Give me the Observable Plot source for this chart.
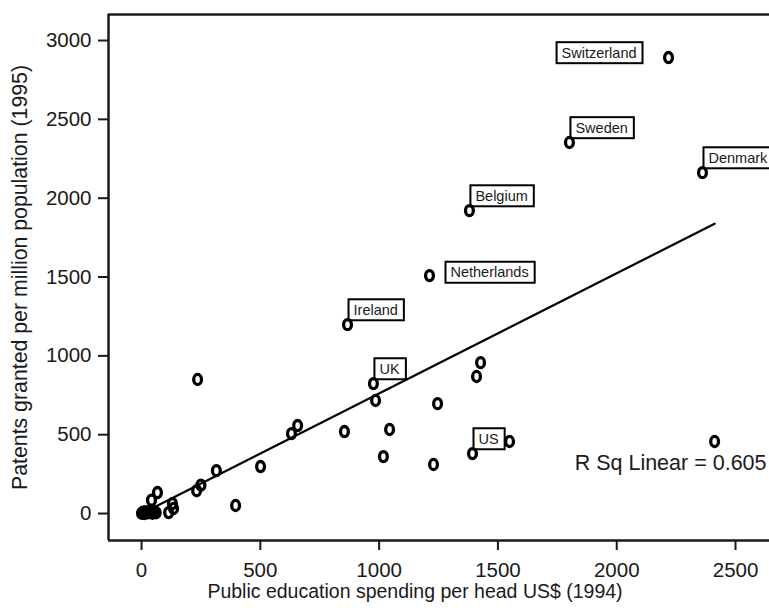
<!DOCTYPE html>
<html>
<head>
<meta charset="utf-8">
<script src="https://cdn.jsdelivr.net/npm/d3@7"></script>
<script src="https://cdn.jsdelivr.net/npm/@observablehq/plot@0.6"></script>
<style>
  html, body { margin: 0; padding: 0; background: #fff; overflow: hidden; }
  #chart svg { display: block; }
</style>
</head>
<body>
<div id="chart"></div>
<script>
// Country names (blank for unlabelled countries)
const names = [
  "Switzerland", "Sweden", "Denmark", "Belgium", "Netherlands", "Ireland", "UK", "US",
  "", "", "", "", "", "", "", "", "", "", "", "", "", "", "", "", "", "", "", "", "", "", "",
  "", "", "", "", "", "", "", "", "", ""
];
// Public education spending per head, US$ (1994)
const spending = [
  2218, 1801, 2361, 1380, 1212, 867, 976, 1393,
  1427, 1410, 985, 1246, 854, 1044, 1018, 1229, 1549, 2412, 236, 657, 631, 501, 315, 250, 232, 396, 67, 42, 130, 135, 114,
  0, 6, 12, 18, 24, 30, 38, 46, 54, 62
];
// Patents granted per million population (1995)
const patents = [
  2892, 2353, 2162, 1921, 1509, 1198, 824, 380,
  957, 869, 717, 697, 520, 533, 361, 311, 457, 457, 850, 558, 507, 298, 272, 180, 145, 51, 133, 85, 63, 32, 6,
  2, 8, 0, 12, 4, 6, 14, 2, 10, 5
];
const xTicks = [0, 500, 1000, 1500, 2000, 2500];
const yTicks = [0, 500, 1000, 1500, 2000, 2500, 3000];
const rSquared = 0.605;
const xTitle = "Public education spending per head US$ (1994)";
const yTitle = "Patents granted per million population (1995)";

const data = names.map((name, i) => ({name, spending: spending[i], patents: patents[i]}));

// Where each country label sits relative to its point
const labelSide = {Switzerland: "left", Netherlands: "right"};
const sideOf = d => labelSide[d.name] || "above";
const labelled = data.filter(d => d.name);

// Open oval marker, slightly taller than wide
const oval = {
  draw(context, size) {
    const r = Math.sqrt(size / Math.PI);
    const rx = r * 0.85, ry = r * 1.1, k = 0.5523;
    context.moveTo(rx, 0);
    context.bezierCurveTo(rx, ry * k, rx * k, ry, 0, ry);
    context.bezierCurveTo(-rx * k, ry, -rx, ry * k, -rx, 0);
    context.bezierCurveTo(-rx, -ry * k, -rx * k, -ry, 0, -ry);
    context.bezierCurveTo(rx * k, -ry, rx, -ry * k, rx, 0);
    context.closePath();
  }
};

const xDomain = [-139, 2643];
const yDomain = [-171, 3165];
const font = "'Liberation Sans', Arial, Helvetica, sans-serif";
const ink = "#1a1a1a";

const chart = Plot.plot({
  width: 769,
  height: 611,
  marginLeft: 108,
  marginRight: 0,
  marginTop: 14,
  marginBottom: 71,
  style: {fontFamily: font, color: ink, background: "#fff"},
  x: {domain: xDomain},
  y: {domain: yDomain},
  marks: [
    Plot.axisX({ticks: xTicks, tickFormat: "d", tickSize: 10, tickPadding: 12, fontSize: 20.5, strokeWidth: 2, label: null}),
    Plot.axisY({ticks: yTicks, tickFormat: "d", tickSize: 10, tickPadding: 7, fontSize: 20.5, strokeWidth: 2, label: null}),
    Plot.ruleX([xDomain[0]], {stroke: ink, strokeWidth: 2.5}),
    Plot.ruleY([yDomain[0], yDomain[1]], {stroke: ink, strokeWidth: 2.5}),
    Plot.linearRegressionY(data, {x: "spending", y: "patents", stroke: "#000", strokeWidth: 2.2, ci: 0}),
    Plot.text(labelled.filter(d => sideOf(d) === "above"), {
      x: "spending", y: "patents", text: "name", dx: 6, dy: -14.5,
      textAnchor: "start", fontSize: 14.5, fill: ink, className: "country-label"
    }),
    Plot.text(labelled.filter(d => sideOf(d) === "left"), {
      x: "spending", y: "patents", text: "name", dx: -32, dy: -4.5,
      textAnchor: "end", fontSize: 14.5, fill: ink, className: "country-label"
    }),
    Plot.text(labelled.filter(d => sideOf(d) === "right"), {
      x: "spending", y: "patents", text: "name", dx: 21, dy: -3,
      textAnchor: "start", fontSize: 14.5, fill: ink, className: "country-label"
    }),
    // points drawn above the label boxes so none is hidden
    Plot.dot(data, {x: "spending", y: "patents", r: 4.6, symbol: oval, stroke: "#000", strokeWidth: 3.3, fill: "none"}),
    Plot.text([`R Sq Linear = ${rSquared}`], {
      text: d => d, frameAnchor: "bottom-right", dx: -3, dy: -71,
      textAnchor: "end", fontSize: 21.5, fill: ink
    }),
    Plot.text([xTitle], {
      text: d => d, frameAnchor: "bottom", dx: -24, dy: 57,
      textAnchor: "middle", fontSize: 19.5, fill: ink
    }),
    Plot.text([yTitle], {
      text: d => d, frameAnchor: "left", dx: -88.5, rotate: -90,
      textAnchor: "middle", fontSize: 21.3, fill: ink
    })
  ]
});

document.getElementById("chart").appendChild(chart);

// Put a white, outlined box behind each country name
const padL = 5, padR = 6, padV = 2.5;
chart.querySelectorAll("g.country-label text").forEach(t => {
  const b = t.getBBox();
  const rect = document.createElementNS("http://www.w3.org/2000/svg", "rect");
  rect.setAttribute("x", b.x - padL);
  rect.setAttribute("y", b.y - padV);
  rect.setAttribute("width", b.width + padL + padR);
  rect.setAttribute("height", b.height + 2 * padV);
  rect.setAttribute("fill", "#fff");
  rect.setAttribute("stroke", "#000");
  rect.setAttribute("stroke-width", 2);
  const tr = t.getAttribute("transform");
  if (tr) rect.setAttribute("transform", tr);
  t.parentNode.insertBefore(rect, t);
});
</script>
</body>
</html>
